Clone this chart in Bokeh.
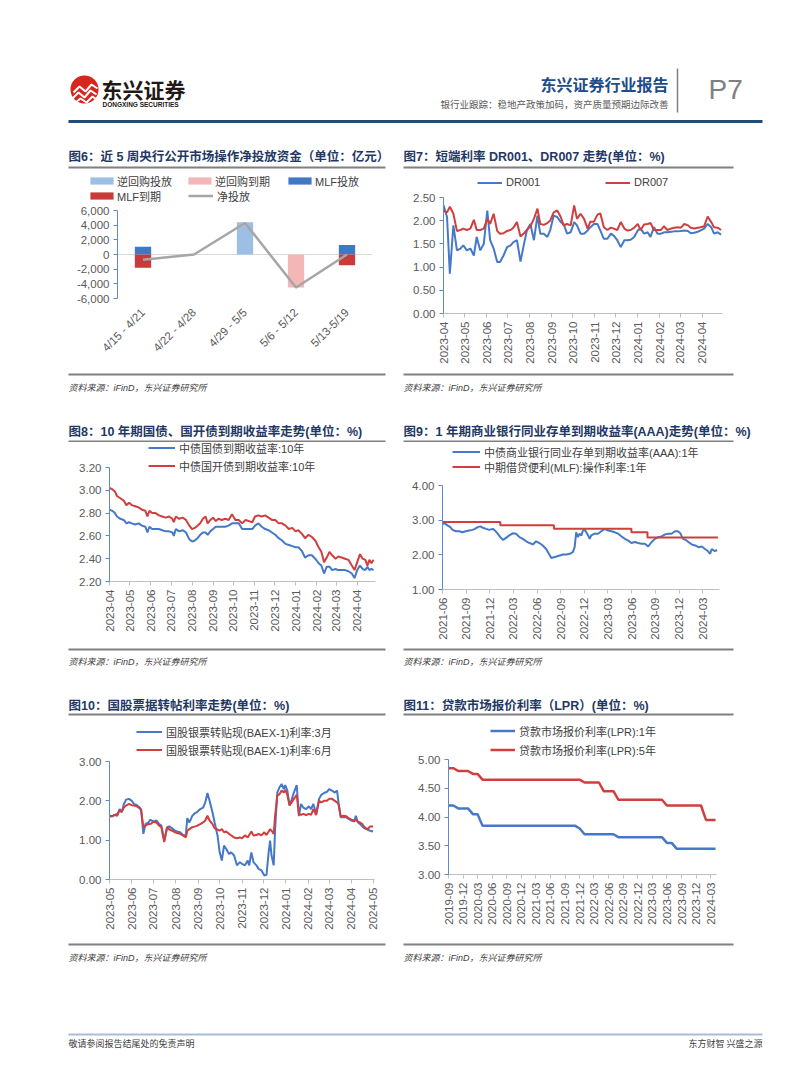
import numpy as np
import pandas as pd
from math import pi
from bokeh.plotting import figure
from bokeh.models import (Range1d, FactorRange, FixedTicker, NumeralTickFormatter,
                          Legend, LegendItem, Span)
from bokeh.layouts import column, row
from bokeh.embed import file_html
from bokeh.resources import INLINE
from bokeh.core.properties import value

# ======================= DATA =======================
# Fig 6: weekly open market operations (100m CNY)
c6_weeks = ["4/15 - 4/21", "4/22 - 4/28", "4/29 - 5/5", "5/6 - 5/12", "5/13-5/19"]
c6_rr_in = [0, 0, 4400, 0, 0]
c6_rr_out = [0, 0, 0, -4500, 0]
c6_mlf_in = [1050, 0, 0, 0, 1300]
c6_mlf_out = [-1800, 0, 0, 0, -1450]
c6_net = [-700, 0, 4300, -4500, 0]
c6_yticks = [-6000, -4000, -2000, 0, 2000, 4000, 6000]

# Fig 7: DR001 / DR007 (days since 2023-04-01)
c7_start = "2023-04-01"
c7_days = [0, 5, 9, 14, 19, 24, 28, 33, 38, 43, 47, 52, 57, 62, 66, 71, 76, 80, 85, 90,
           95, 99, 104, 109, 114, 118, 123, 128, 133, 137, 142, 147, 151, 156, 161, 166, 170, 175, 180, 185,
           189, 194, 199, 204, 208, 213, 218, 222, 227, 232, 237, 241, 246, 251, 256, 260, 265, 270, 275, 279,
           284, 289, 293, 298, 303, 308, 312, 317, 322, 327, 331, 336, 341, 346, 350, 355, 360, 364, 369, 374,
           379, 383, 388, 393]
c7_dr001 = [2.33, 2.08, 0.86, 1.90, 1.36, 1.40, 1.47, 1.36, 1.40, 1.25, 1.65, 1.36, 1.50, 2.22, 1.58, 1.40,
            1.11, 1.11, 1.25, 1.43, 1.47, 1.54, 1.58, 1.12, 1.50, 1.79, 1.93, 1.58, 2.11, 1.72, 1.72, 1.65,
            1.79, 2.11, 2.08, 1.97, 1.93, 1.72, 1.75, 1.97, 1.90, 1.72, 1.72, 1.79, 1.86, 1.93, 1.93, 1.79,
            1.61, 1.61, 1.72, 1.68, 1.58, 1.43, 1.58, 1.58, 1.59, 1.65, 1.79, 1.83, 1.72, 1.75, 1.65, 1.86,
            1.72, 1.72, 1.75, 1.75, 1.76, 1.77, 1.77, 1.78, 1.79, 1.78, 1.73, 1.74, 1.76, 1.79, 1.83, 1.93,
            1.86, 1.72, 1.75, 1.70]
c7_dr007 = [2.22, 2.18, 2.30, 2.15, 1.78, 1.80, 1.83, 1.80, 1.83, 2.02, 1.80, 1.80, 1.83, 2.04, 1.93, 2.15,
            1.78, 1.72, 1.73, 1.78, 1.80, 1.85, 1.97, 1.66, 1.73, 1.80, 1.88, 2.04, 2.26, 1.93, 1.91, 1.95,
            2.00, 2.18, 2.22, 2.08, 1.90, 1.93, 1.90, 2.33, 2.04, 2.15, 2.04, 1.83, 1.98, 1.98, 2.13, 2.16,
            1.86, 1.80, 1.85, 1.83, 1.80, 1.97, 1.83, 1.79, 1.80, 1.85, 1.93, 1.80, 1.92, 1.93, 1.95, 1.80,
            1.80, 1.80, 1.88, 1.80, 1.83, 1.85, 1.86, 1.85, 1.93, 1.90, 1.85, 1.83, 1.85, 1.86, 1.88, 2.09,
            1.97, 1.86, 1.85, 1.80]
c7_xlabels = ["2023-04", "2023-05", "2023-06", "2023-07", "2023-08", "2023-09", "2023-10",
              "2023-11", "2023-12", "2024-01", "2024-02", "2024-03", "2024-04"]
c7_yticks = [0, 0.5, 1.0, 1.5, 2.0, 2.5]

# Fig 8: 10Y CGB / CDB yields (days since 2023-04-01)
c8_start = "2023-04-01"
c8_days = [0, 4, 8, 11, 16, 21, 25, 29, 33, 38, 43, 48, 53, 56, 59, 63, 68, 73, 78, 83,
           88, 93, 95, 98, 103, 108, 113, 118, 122, 126, 130, 134, 138, 142, 145, 149, 153, 157, 161, 166,
           171, 176, 181, 186, 191, 196, 201, 206, 211, 215, 220, 225, 230, 235, 240, 245, 250, 255, 260, 265,
           270, 275, 279, 284, 289, 294, 299, 304, 309, 313, 317, 321, 325, 329, 334, 338, 343, 348, 353, 358,
           362, 366, 370, 374, 378, 381, 384, 387, 390]
c8_cgb = [2.83, 2.82, 2.80, 2.77, 2.75, 2.74, 2.71, 2.72, 2.71, 2.70, 2.71, 2.69, 2.68, 2.63, 2.68, 2.66,
          2.66, 2.66, 2.65, 2.64, 2.64, 2.63, 2.60, 2.66, 2.64, 2.65, 2.63, 2.57, 2.55, 2.56, 2.58, 2.61,
          2.63, 2.63, 2.61, 2.64, 2.66, 2.68, 2.68, 2.68, 2.68, 2.69, 2.71, 2.71, 2.71, 2.66, 2.66, 2.66,
          2.66, 2.69, 2.71, 2.68, 2.66, 2.65, 2.63, 2.61, 2.58, 2.56, 2.53, 2.52, 2.51, 2.50, 2.50, 2.47,
          2.41, 2.43, 2.43, 2.40, 2.36, 2.34, 2.27, 2.33, 2.33, 2.30, 2.31, 2.30, 2.30, 2.30, 2.29, 2.27,
          2.23, 2.30, 2.34, 2.31, 2.30, 2.33, 2.30, 2.31, 2.30]
c8_cdb = [3.02, 3.01, 2.99, 2.95, 2.93, 2.91, 2.87, 2.89, 2.87, 2.86, 2.85, 2.83, 2.82, 2.77, 2.82, 2.80,
          2.80, 2.78, 2.77, 2.76, 2.77, 2.75, 2.72, 2.77, 2.75, 2.76, 2.74, 2.69, 2.66, 2.67, 2.69, 2.71,
          2.75, 2.77, 2.71, 2.74, 2.76, 2.73, 2.75, 2.74, 2.75, 2.74, 2.79, 2.74, 2.74, 2.71, 2.74, 2.73,
          2.72, 2.77, 2.78, 2.77, 2.78, 2.76, 2.74, 2.74, 2.71, 2.71, 2.69, 2.66, 2.67, 2.64, 2.65, 2.62,
          2.58, 2.61, 2.59, 2.56, 2.50, 2.46, 2.37, 2.41, 2.46, 2.43, 2.40, 2.42, 2.41, 2.40, 2.39, 2.34,
          2.30, 2.37, 2.44, 2.40, 2.39, 2.34, 2.39, 2.36, 2.39]
c8_xlabels = c7_xlabels
c8_yticks = [2.2, 2.4, 2.6, 2.8, 3.0, 3.2]

# Fig 9: 1Y AAA NCD yield vs MLF rate (days since 2021-06-01)
c9_start = "2021-06-01"
c9_days = [0, 9, 19, 30, 39, 52, 65, 77, 90, 103, 116, 125, 136, 146, 156, 168, 181, 194, 203, 213,
           223, 234, 245, 258, 271, 284, 297, 310, 323, 336, 349, 361, 374, 387, 400, 409, 420, 430, 440, 452,
           465, 478, 491, 503, 510, 516, 523, 529, 536, 542, 549, 555, 562, 568, 574, 587, 600, 613, 626, 639,
           652, 665, 678, 691, 704, 717, 729, 742, 755, 768, 781, 794, 807, 820, 833, 846, 859, 871, 884, 897,
           908, 918, 928, 939, 949, 962, 975, 988, 1001, 1013, 1024, 1033, 1039, 1050, 1060]
c9_ncd = [2.89, 2.91, 2.85, 2.80, 2.72, 2.68, 2.68, 2.65, 2.68, 2.70, 2.72, 2.75, 2.80, 2.82, 2.78, 2.75,
          2.72, 2.75, 2.70, 2.61, 2.51, 2.43, 2.49, 2.56, 2.62, 2.61, 2.51, 2.46, 2.39, 2.34, 2.30, 2.39,
          2.34, 2.27, 2.17, 2.05, 1.91, 1.93, 1.95, 1.98, 2.01, 2.01, 2.03, 2.08, 2.22, 2.65, 2.51, 2.61,
          2.56, 2.70, 2.72, 2.65, 2.56, 2.46, 2.56, 2.61, 2.61, 2.68, 2.75, 2.70, 2.68, 2.65, 2.61, 2.53,
          2.46, 2.41, 2.34, 2.37, 2.34, 2.32, 2.32, 2.24, 2.37, 2.46, 2.51, 2.53, 2.59, 2.61, 2.61, 2.68,
          2.68, 2.62, 2.46, 2.43, 2.37, 2.30, 2.27, 2.22, 2.24, 2.17, 2.11, 2.03, 2.17, 2.11, 2.13]
c9_mlf_days = [0, 223, 430, 729, 791, 1063]
c9_mlf = [2.95, 2.85, 2.75, 2.65, 2.50, 2.50]
c9_xlabels = ["2021-06", "2021-09", "2021-12", "2022-03", "2022-06", "2022-09", "2022-12",
              "2023-03", "2023-06", "2023-09", "2023-12", "2024-03"]
c9_yticks = [1.0, 2.0, 3.0, 4.0]

# Fig 10: bill rediscount rates (days since 2023-05-01)
c10_start = "2023-05-01"
c10_days = [0, 4, 7, 11, 14, 17, 20, 23, 27, 31, 34, 38, 42, 44, 47, 50, 54, 57, 61, 65,
            69, 72, 76, 80, 83, 87, 91, 94, 98, 102, 106, 108, 111, 115, 119, 122, 126, 130, 133, 136,
            139, 143, 146, 150, 153, 156, 159, 162, 166, 169, 173, 177, 181, 184, 188, 192, 194, 197, 200, 204,
            207, 211, 215, 218, 221, 223, 225, 228, 230, 233, 236, 239, 242, 244, 247, 250, 253, 256, 260, 263,
            266, 269, 273, 277, 280, 283, 287, 291, 294, 298, 302, 305, 309, 313, 316, 318, 321, 325, 329, 332,
            336, 340, 342, 345, 348, 351, 354, 358, 362, 366]
c10_3m = [1.60, 1.61, 1.64, 1.62, 1.79, 1.71, 1.92, 2.03, 2.05, 2.00,
          1.92, 1.89, 1.83, 1.78, 1.16, 1.41, 1.45, 1.52, 1.47, 1.50,
          1.41, 1.37, 0.99, 1.33, 1.35, 1.30, 1.24, 1.22, 1.20, 1.13,
          1.12, 1.56, 1.45, 1.62, 1.69, 1.72, 1.79, 1.83, 1.96, 2.20,
          2.00, 1.71, 1.45, 1.12, 0.69, 0.48, 0.86, 0.78, 0.65, 0.69,
          0.61, 0.36, 0.44, 0.40, 0.36, 0.48, 0.36, 0.69, 0.44, 0.36,
          0.27, 0.23, 0.10, 0.12, 0.69, 0.99, 0.61, 0.36, 1.28, 2.21,
          2.34, 2.43, 2.30, 2.40, 2.26, 1.88, 2.03, 2.21, 2.40, 1.61,
          1.92, 1.83, 1.79, 1.86, 1.79, 1.92, 1.67, 2.05, 2.15, 2.20,
          2.23, 2.30, 2.26, 2.21, 2.26, 1.96, 1.58, 1.58, 1.58, 1.54,
          1.50, 1.47, 1.62, 1.45, 1.41, 1.35, 1.30, 1.27, 1.24, 1.22]
c10_6m = [1.62, 1.61, 1.64, 1.67, 1.75, 1.72, 1.83, 1.88, 1.92, 1.89,
          1.88, 1.86, 1.81, 1.75, 1.33, 1.37, 1.41, 1.41, 1.47, 1.45,
          1.37, 1.33, 0.95, 1.33, 1.27, 1.24, 1.20, 1.18, 1.16, 1.12,
          1.07, 1.24, 1.28, 1.33, 1.35, 1.37, 1.41, 1.45, 1.50, 1.62,
          1.50, 1.41, 1.30, 1.27, 1.24, 1.28, 1.20, 1.22, 1.16, 1.12,
          1.07, 1.05, 1.07, 1.05, 1.12, 1.07, 1.13, 1.22, 1.12, 1.13,
          1.16, 1.12, 1.20, 1.13, 1.22, 1.28, 1.24, 1.16, 1.62, 2.13,
          2.17, 2.26, 2.21, 2.28, 2.15, 1.89, 1.96, 2.05, 2.15, 1.67,
          1.64, 1.67, 1.64, 1.67, 1.64, 1.79, 1.64, 2.00, 1.96, 2.00,
          2.00, 2.05, 2.05, 2.00, 1.96, 1.92, 1.61, 1.62, 1.61, 1.56,
          1.52, 1.50, 1.52, 1.47, 1.45, 1.41, 1.33, 1.28, 1.35, 1.35]
c10_xlabels = ["2023-05", "2023-06", "2023-07", "2023-08", "2023-09", "2023-10", "2023-11",
               "2023-12", "2024-01", "2024-02", "2024-03", "2024-04", "2024-05"]
c10_yticks = [0.0, 1.0, 2.0, 3.0]

# Fig 11: LPR monthly, 2019-09 .. 2024-04
c11_start = "2019-09-01"
c11_lpr1 = [4.20, 4.20, 4.15, 4.15,
            4.15, 4.05, 4.05, 3.85, 3.85, 3.85, 3.85, 3.85, 3.85, 3.85, 3.85, 3.85,
            3.85, 3.85, 3.85, 3.85, 3.85, 3.85, 3.85, 3.85, 3.85, 3.85, 3.85, 3.80,
            3.70, 3.70, 3.70, 3.70, 3.70, 3.70, 3.70, 3.65, 3.65, 3.65, 3.65, 3.65,
            3.65, 3.65, 3.65, 3.65, 3.65, 3.55, 3.55, 3.45, 3.45, 3.45, 3.45, 3.45,
            3.45, 3.45, 3.45, 3.45]
c11_lpr5 = [4.85, 4.85, 4.80, 4.80,
            4.80, 4.75, 4.75, 4.65, 4.65, 4.65, 4.65, 4.65, 4.65, 4.65, 4.65, 4.65,
            4.65, 4.65, 4.65, 4.65, 4.65, 4.65, 4.65, 4.65, 4.65, 4.65, 4.65, 4.65,
            4.60, 4.60, 4.60, 4.60, 4.45, 4.45, 4.45, 4.30, 4.30, 4.30, 4.30, 4.30,
            4.30, 4.30, 4.30, 4.30, 4.30, 4.20, 4.20, 4.20, 4.20, 4.20, 4.20, 4.20,
            4.20, 3.95, 3.95, 3.95]
c11_xlabels = ["2019-09", "2019-12", "2020-03", "2020-06", "2020-09", "2020-12", "2021-03",
               "2021-06", "2021-09", "2021-12", "2022-03", "2022-06", "2022-09", "2022-12",
               "2023-03", "2023-06", "2023-09", "2023-12", "2024-03"]
c11_yticks = [3.0, 3.5, 4.0, 4.5, 5.0]

# ======================= STYLE =======================
CJK = "Noto Sans CJK SC"
LAT = "Liberation Sans"
MIX = "Liberation Sans, Noto Sans CJK SC"
TITLE_C = "#1F3864"
BLUE = "#4678C8"
RED = "#D03E3E"
AXB = "#5A8AD0"
AXG = "#BFBFBF"
LBL = "#595959"
SEP = "#808080"
C6_COLORS = ["#9DBFE6", "#F3B7B7", "#3F78C4", "#C93A3B", "#A6A6A6"]

LX, LW = 0, 397     # left column page x, width
RX, RW = 397, 397   # right column page x, width


def strip(w, h):
    p = figure(width=w, height=h, x_range=Range1d(0, w), y_range=Range1d(h, 0),
               toolbar_location=None, output_backend="svg", min_border=0,
               x_axis_location=None, y_axis_location=None, frame_align=False)
    p.outline_line_color = None
    p.grid.visible = False
    return p


def txt(p, x, y, s, size, color, font=CJK, style="normal", align="left", baseline="middle"):
    p.text(x=[x], y=[y], text=[s], text_font=value(font), text_font_size=size,
           text_color=color, text_font_style=style, text_align=align, text_baseline=baseline)


def hline(p, x0, x1, y, color, w):
    p.segment(x0=[x0], y0=[y], x1=[x1], y1=[y], line_color=color, line_width=w)


def title_strip(colx, w, top, h, title, ty, ly, lx0, lx1):
    p = strip(w, h)
    txt(p, lx0 - colx, ty - top, title, "12.5px", TITLE_C, font=MIX, style="bold")
    hline(p, lx0 - colx, lx1 - colx, ly - top, SEP, 2)
    return p


def source_strip(colx, w, top, h, ly, ty, lx0, lx1):
    p = strip(w, h)
    hline(p, lx0 - colx, lx1 - colx, ly - top, SEP, 2)
    txt(p, lx0 - colx, ty - top, "资料来源：iFinD，东兴证券研究所", "9px", "#404040", font=MIX, style="italic")
    return p


def chart(colx, w, top, h, axbox, x_range, ylim, extend_top=True):
    """axbox: page coords (left, y of ymax, right, y of ymin)."""
    fx0, fy0, fx1, fy1 = axbox
    y0, y1 = ylim
    if extend_top:
        y_end = y1 + (fy0 - top) * (y1 - y0) / (fy1 - fy0)
        mbt = 0
    else:
        y_end = y1
        mbt = fy0 - top
    p = figure(width=w, height=h, x_range=x_range, y_range=Range1d(y0, y_end),
               toolbar_location=None, output_backend="svg", frame_align=False,
               min_border_left=fx0 - colx, min_border_right=colx + w - fx1,
               min_border_top=mbt, min_border_bottom=top + h - fy1)
    p.outline_line_color = None
    p.grid.visible = False
    return p


def style_y(p, ticks, fmt, ylim):
    ax = p.yaxis[0]
    ax.ticker = FixedTicker(ticks=ticks)
    ax.formatter = NumeralTickFormatter(format=fmt)
    ax.bounds = ylim
    ax.axis_line_color = AXB
    ax.major_tick_line_color = AXB
    ax.major_tick_out = 4
    ax.major_tick_in = 0
    ax.minor_tick_line_color = None
    ax.major_label_text_font = LAT
    ax.major_label_text_font_size = "11.5px"
    ax.major_label_text_color = LBL
    ax.major_label_standoff = 4


def style_x_dates(p, start, labels):
    ax = p.xaxis[0]
    t0 = pd.Timestamp(start)
    ticks = [(pd.Timestamp(s + "-01") - t0).days for s in labels]
    ax.ticker = FixedTicker(ticks=ticks)
    ax.major_label_overrides = {t: s for t, s in zip(ticks, labels)}
    ax.axis_line_color = AXG
    ax.major_tick_line_color = AXG
    ax.major_tick_out = 4
    ax.major_tick_in = 0
    ax.minor_tick_line_color = None
    ax.major_label_orientation = pi / 2
    ax.major_label_text_font = LAT
    ax.major_label_text_font_size = "11.5px"
    ax.major_label_text_color = LBL
    ax.major_label_standoff = 4


def add_leg(p, frame_left, frame_bottom, label, r, gx, yc, gw, gh, standoff=4, lh=13):
    """frame_left / frame_bottom: page coords of the frame the legend is placed in."""
    leg = Legend(items=[LegendItem(label=label, renderers=[r])],
                 location=(gx - frame_left, frame_bottom - (yc + lh / 2)),
                 orientation="horizontal", padding=0, margin=0, spacing=0,
                 glyph_width=gw, glyph_height=gh, label_standoff=standoff,
                 label_height=lh, label_text_font_size="11px", label_text_font=MIX,
                 label_text_color="#404040", border_line_color=None,
                 background_fill_alpha=0)
    p.add_layout(leg)


# ======================= HEADER =======================
header = strip(794, 140)
header.circle(x=[84], y=[89], radius=14, fill_color="#D7261E", line_color=None)
header.multi_line(xs=[[73, 79, 85, 91, 97], [72, 78, 84, 90, 96], [74, 80, 86, 92, 96]],
                  ys=[[92, 86, 91, 84, 88], [98, 92, 97, 90, 94], [103, 98, 102, 96, 99]],
                  line_color="white", line_width=2)
txt(header, 101, 88, "东兴证券", "21px", "#231815", style="bold")
txt(header, 102, 104, "DONGXING SECURITIES", "6.5px", "#231815", font=LAT, style="bold")
txt(header, 668, 83, "东兴证券行业报告", "16px", "#1E4C8A", style="bold", align="right")
txt(header, 668, 103, "银行业跟踪：稳地产政策加码，资产质量预期边际改善", "9.5px", "#595959", align="right")
header.segment(x0=[677], y0=[68], x1=[677], y1=[112], line_color="#7F7F7F", line_width=1.5)
txt(header, 708, 89, "P7", "28px", "#7F7F7F", font=LAT)
hline(header, 68, 762, 121, "#1F4E79", 3)

# ======================= ROW 1 =======================
# --- Fig 6 (legend lives in its own strip above the chart; swatch renderers hold no visible data)
t6 = title_strip(LX, LW, 140, 30, "图6：近 5 周央行公开市场操作净投放资金（单位：亿元）", 156, 167, 68, 385)
LG6_TOP, LG6_H = 170, 36
lg6 = strip(LW, LG6_H)
NAN = [float("nan")]
k1 = lg6.vbar(x=NAN, top=NAN, width=1, fill_color=C6_COLORS[0], line_color=None)
k2 = lg6.vbar(x=NAN, top=NAN, width=1, fill_color=C6_COLORS[1], line_color=None)
k3 = lg6.vbar(x=NAN, top=NAN, width=1, fill_color=C6_COLORS[2], line_color=None)
k4 = lg6.vbar(x=NAN, top=NAN, width=1, fill_color=C6_COLORS[3], line_color=None)
k5 = lg6.line(x=NAN, y=NAN, line_color=C6_COLORS[4], line_width=2.5)
fb6 = LG6_TOP + LG6_H
add_leg(lg6, LX, fb6, "逆回购投放", k1, 87, 182, 29, 9, standoff=1)
add_leg(lg6, LX, fb6, "逆回购到期", k2, 185, 182, 29, 9, standoff=1)
add_leg(lg6, LX, fb6, "MLF投放", k3, 285, 182, 29, 9, standoff=1)
add_leg(lg6, LX, fb6, "MLF到期", k4, 87, 197, 29, 9, standoff=1)
add_leg(lg6, LX, fb6, "净投放", k5, 188, 197, 25, 9)

a6 = (117, 210, 372, 298)
p6 = chart(LX, LW, fb6, 368 - fb6, a6, FactorRange(*c6_weeks), (-6000, 6000), extend_top=False)
p6.add_layout(Span(location=0, dimension="width", line_color="#D9D9D9", line_width=1, level="underlay"))
rr_in = np.array(c6_rr_in, float)
mlf_in = np.array(c6_mlf_in, float)
rr_out = np.array(c6_rr_out, float)
mlf_out = np.array(c6_mlf_out, float)
p6.vbar(x=c6_weeks, bottom=0, top=rr_in, width=0.32, fill_color=C6_COLORS[0], line_color=None)
p6.vbar(x=c6_weeks, bottom=0, top=rr_out, width=0.32, fill_color=C6_COLORS[1], line_color=None)
p6.vbar(x=c6_weeks, bottom=rr_in, top=rr_in + mlf_in, width=0.32, fill_color=C6_COLORS[2], line_color=None)
p6.vbar(x=c6_weeks, bottom=rr_out, top=rr_out + mlf_out, width=0.32, fill_color=C6_COLORS[3], line_color=None)
p6.line(x=c6_weeks, y=c6_net, line_color=C6_COLORS[4], line_width=2.5)
style_y(p6, c6_yticks, "0,0", (-6000, 6000))
xa = p6.xaxis[0]
xa.axis_line_color = None
xa.major_tick_line_color = None
xa.major_label_orientation = pi / 4
xa.major_label_text_font = LAT
xa.major_label_text_font_size = "11.5px"
xa.major_label_text_color = LBL
xa.major_label_standoff = 6
s6 = source_strip(LX, LW, 368, 47, 374, 387, 68, 385)

# --- Fig 7
t7 = title_strip(RX, RW, 140, 32, "图7：短端利率 DR001、DR007 走势(单位：%)", 156, 167, 403, 733)
a7 = (443, 197, 722, 313)
p7 = chart(RX, RW, 172, 196, a7, Range1d(0, 395), (0, 2.5))
r71 = p7.line(c7_days, c7_dr001, line_color=BLUE, line_width=2)
r72 = p7.line(c7_days, c7_dr007, line_color=RED, line_width=2)
style_y(p7, c7_yticks, "0.00", (0, 2.5))
style_x_dates(p7, c7_start, c7_xlabels)
add_leg(p7, a7[0], a7[3], "DR001", r71, 477, 182, 25, 9)
add_leg(p7, a7[0], a7[3], "DR007", r72, 605, 182, 25, 9)
s7 = source_strip(RX, RW, 368, 47, 374, 387, 403, 733)

# ======================= ROW 2 =======================
t8 = title_strip(LX, LW, 415, 27, "图8：10 年期国债、国开债到期收益率走势(单位：%)", 431, 441, 68, 385)
a8 = (109, 467, 375, 581)
p8 = chart(LX, LW, 442, 201, a8, Range1d(0, 393), (2.2, 3.2))
r81 = p8.line(c8_days, c8_cgb, line_color=BLUE, line_width=2)
r82 = p8.line(c8_days, c8_cdb, line_color=RED, line_width=2)
style_y(p8, c8_yticks, "0.00", (2.2, 3.2))
style_x_dates(p8, c8_start, c8_xlabels)
add_leg(p8, a8[0], a8[3], "中债国债到期收益率:10年", r81, 148, 449, 27, 9)
add_leg(p8, a8[0], a8[3], "中债国开债到期收益率:10年", r82, 148, 467, 27, 9)
s8 = source_strip(LX, LW, 643, 47, 649, 661, 68, 385)

t9 = title_strip(RX, RW, 415, 27, "图9：1 年期商业银行同业存单到期收益率(AAA)走势(单位：%)", 431, 441, 403, 733)
a9 = (442, 485, 719, 589)
p9 = chart(RX, RW, 442, 201, a9, Range1d(0, 1069), (1.0, 4.0))
r91 = p9.line(c9_days, c9_ncd, line_color=BLUE, line_width=2)
r92 = p9.step(c9_mlf_days, c9_mlf, mode="after", line_color=RED, line_width=2)
style_y(p9, c9_yticks, "0.00", (1.0, 4.0))
style_x_dates(p9, c9_start, c9_xlabels)
add_leg(p9, a9[0], a9[3], "中债商业银行同业存单到期收益率(AAA):1年", r91, 452, 453, 28, 9)
add_leg(p9, a9[0], a9[3], "中期借贷便利(MLF):操作利率:1年", r92, 452, 468, 28, 9)
s9 = source_strip(RX, RW, 643, 47, 649, 661, 403, 733)

# ======================= ROW 3 =======================
t10 = title_strip(LX, LW, 690, 28, "图10：国股票据转帖利率走势(单位：%)", 705, 714, 68, 385)
a10 = (109, 761, 374, 879)
p10 = chart(LX, LW, 718, 220, a10, Range1d(0, 368), (0.0, 3.0))
r101 = p10.line(c10_days, c10_3m, line_color=BLUE, line_width=2)
r102 = p10.line(c10_days, c10_6m, line_color=RED, line_width=2)
style_y(p10, c10_yticks, "0.00", (0.0, 3.0))
style_x_dates(p10, c10_start, c10_xlabels)
add_leg(p10, a10[0], a10[3], "国股银票转贴现(BAEX-1)利率:3月", r101, 136, 733, 26, 9)
add_leg(p10, a10[0], a10[3], "国股银票转贴现(BAEX-1)利率:6月", r102, 136, 751, 26, 9)
s10 = source_strip(LX, LW, 938, 47, 944, 957, 68, 385)

t11 = title_strip(RX, RW, 690, 28, "图11：贷款市场报价利率（LPR）(单位：%)", 705, 714, 403, 733)
a11 = (448, 759, 716, 874)
c11_t0 = pd.Timestamp(c11_start)
c11_x = [(m.to_timestamp() - c11_t0).days for m in pd.period_range("2019-09", "2024-04", freq="M")]
p11 = chart(RX, RW, 718, 220, a11, Range1d(0, (pd.Timestamp("2024-04-07") - c11_t0).days), (3.0, 5.0))
r111 = p11.line(c11_x, c11_lpr1, line_color=BLUE, line_width=2.5)
r112 = p11.line(c11_x, c11_lpr5, line_color=RED, line_width=2.5)
style_y(p11, c11_yticks, "0.00", (3.0, 5.0))
style_x_dates(p11, c11_start, c11_xlabels)
add_leg(p11, a11[0], a11[3], "贷款市场报价利率(LPR):1年", r111, 490, 732, 25, 9)
add_leg(p11, a11[0], a11[3], "贷款市场报价利率(LPR):5年", r112, 490, 751, 25, 9)
s11 = source_strip(RX, RW, 938, 47, 944, 957, 403, 733)

# ======================= FOOTER =======================
footer = strip(794, 75)
hline(footer, 68, 762, 49, "#A9BCD9", 2)
txt(footer, 68, 58, "敬请参阅报告结尾处的免责声明", "9px", "#404040")
txt(footer, 762, 58, "东方财智 兴盛之源", "9px", "#404040", align="right")

layout = column(
    header,
    row(column(t6, lg6, p6, s6, spacing=0), column(t7, p7, s7, spacing=0), spacing=0),
    row(column(t8, p8, s8, spacing=0), column(t9, p9, s9, spacing=0), spacing=0),
    row(column(t10, p10, s10, spacing=0), column(t11, p11, s11, spacing=0), spacing=0),
    footer,
    spacing=0,
)

open("out.html", "w").write(file_html(layout, INLINE, title="东兴证券行业报告"))
